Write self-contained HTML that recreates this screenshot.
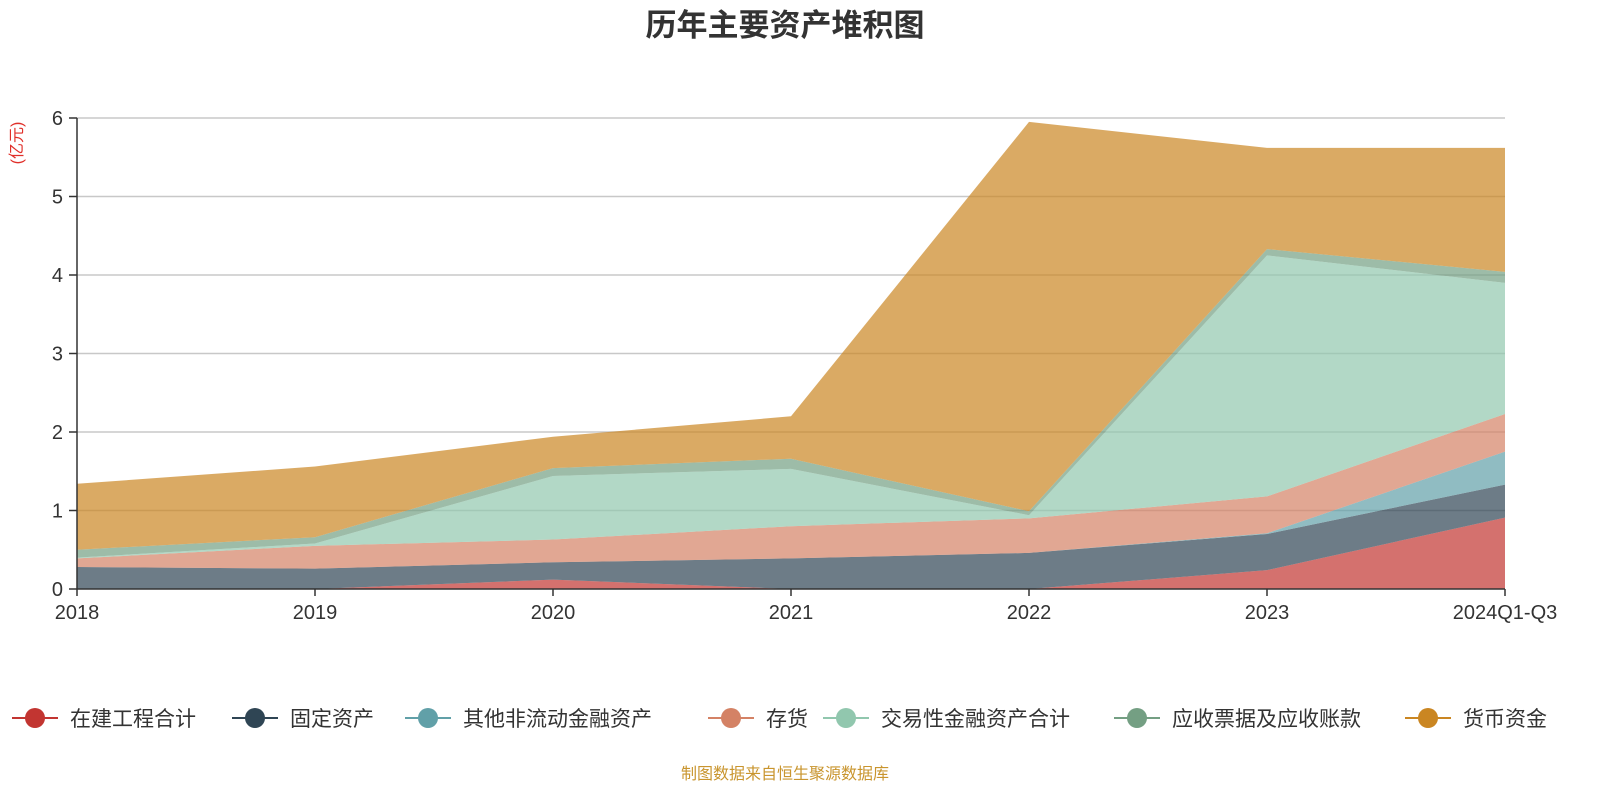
<!DOCTYPE html>
<html><head><meta charset="utf-8"><style>
body{margin:0;background:#fff;}
svg{display:block;font-family:"Liberation Sans","Noto Sans CJK SC",sans-serif;}
</style></head><body>
<svg id="chart" width="1600" height="800" xmlns="http://www.w3.org/2000/svg">
<text x="785" y="36" text-anchor="middle" font-size="31" font-weight="bold" fill="#333">历年主要资产堆积图</text>
<text transform="translate(22,143) rotate(-90)" text-anchor="middle" font-size="16" fill="#e0302a">(亿元)</text>
<g id="grid"></g><g id="areas"></g><g id="axes"></g><g id="legend"></g>
<text x="785" y="779" text-anchor="middle" font-size="16" fill="#c9952e">制图数据来自恒生聚源数据库</text>
</svg>
<script>
const categories=["2018","2019","2020","2021","2022","2023","2024Q1-Q3"];
const seriesNames=["在建工程合计","固定资产","其他非流动金融资产","存货","交易性金融资产合计","应收票据及应收账款","货币资金"];
const zaijian=[0,0,0.12,0,0,0.24,0.91];
const guding=[0.28,0.26,0.22,0.39,0.46,0.46,0.42];
const qita=[0,0,0,0,0,0.01,0.42];
const cunhuo=[0.11,0.29,0.29,0.41,0.44,0.47,0.48];
const jiaoyi=[0.01,0.03,0.81,0.73,0.04,3.07,1.67];
const yingshou=[0.1,0.08,0.1,0.13,0.05,0.08,0.14];
const huobi=[0.84,0.9,0.4,0.54,4.96,1.29,1.58];
const yTicks=[0,1,2,3,4,5,6];
const colors=["#c23531","#2f4554","#61a0a8","#d48265","#91c7ae","#749f83","#ca8622"];
const NS="http://www.w3.org/2000/svg";
const x0=77,x1=1505,yb=589,yt=118,ymax=6;
const xs=i=>x0+i*(x1-x0)/(categories.length-1);
const ys=v=>yb-v*(yb-yt)/ymax;
function mk(tag,attrs,parent){const e=document.createElementNS(NS,tag);for(const k in attrs)e.setAttribute(k,attrs[k]);parent.appendChild(e);return e;}
const grid=document.getElementById('grid'),areas=document.getElementById('areas'),axes=document.getElementById('axes'),legend=document.getElementById('legend');
yTicks.forEach(t=>{
 if(t>0){const l=mk('line',{x1:x0,x2:x1,y1:ys(t),y2:ys(t),stroke:'#c8c8c8','stroke-width':1.5},grid);
 
 }
 const tk=mk('line',{x1:x0-8,x2:x0,y1:ys(t),y2:ys(t),stroke:'#333','stroke-width':1.5},axes);
 
 
 const tx=mk('text',{x:x0-14,y:ys(t)+7,'text-anchor':'end','font-size':20,fill:'#333'},axes);tx.textContent=t;
 
 
});
const series=[zaijian,guding,qita,cunhuo,jiaoyi,yingshou,huobi];
const cum=categories.map(()=>0);
series.forEach((s,si)=>{
 const lower=cum.slice();
 s.forEach((v,i)=>cum[i]+=v);
 let d='';
 cum.forEach((v,i)=>{d+=(i?'L':'M')+xs(i)+','+ys(v);});
 for(let i=lower.length-1;i>=0;i--)d+='L'+xs(i)+','+ys(lower[i]);
 d+='Z';
 const p=mk('path',{d:d,fill:colors[si],'fill-opacity':0.7,stroke:'none'},areas);
 
 
});
const ax=mk('line',{x1:x0,x2:x0,y1:yt,y2:yb,stroke:'#333','stroke-width':1.5},axes);


const bx=mk('line',{x1:x0,x2:x1,y1:yb,y2:yb,stroke:'#333','stroke-width':1.5},axes);


categories.forEach((c,i)=>{
 const tk=mk('line',{x1:xs(i),x2:xs(i),y1:yb,y2:yb+7,stroke:'#333','stroke-width':1.5},axes);
 
 
 const t=mk('text',{x:xs(i),y:619,'text-anchor':'middle','font-size':20,fill:'#333'},axes);t.textContent=c;
 
 
});
const legX=[12,232,405,708,823,1114,1405];
seriesNames.forEach((n,i)=>{
 const g=mk('g',{},legend);
 
 
 mk('line',{x1:legX[i],x2:legX[i]+46,y1:718,y2:718,stroke:colors[i],'stroke-width':2},g);
 mk('circle',{cx:legX[i]+23,cy:718,r:10,fill:colors[i]},g);
 const t=mk('text',{x:legX[i]+58,y:726,'font-size':21,fill:'#333'},g);t.textContent=n;
});
</script>
</body></html>
